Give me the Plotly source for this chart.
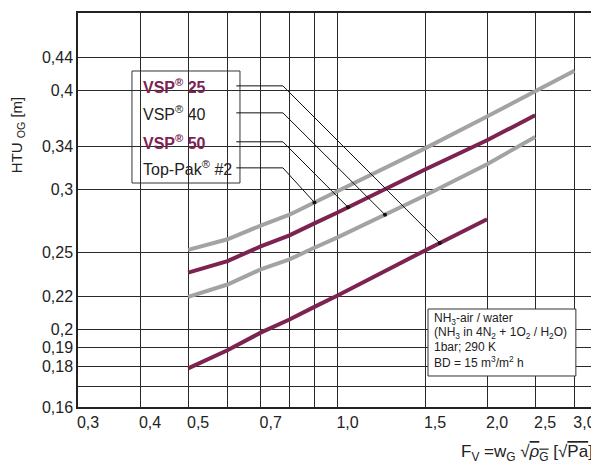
import numpy as np
import plotly.graph_objects as go

# ---- data ----
fv = [0.5, 0.6, 0.7, 0.8, 0.9, 1.0, 1.5, 2.0, 2.5, 3.0]
htu_toppak2 = [0.252, 0.2599, 0.2704, 0.2790, 0.2893, 0.2986, 0.338, 0.3706, 0.399, 0.423]
htu_vsp50 = [0.236, 0.244, 0.2546, 0.2628, 0.2723, 0.2808, 0.318, 0.346, 0.372]
htu_vsp40 = [0.220, 0.228, 0.2382, 0.2452, 0.2538, 0.2613, 0.2949, 0.3229, 0.3494]
htu_vsp25 = [0.1789, 0.1885, 0.1984, 0.2061, 0.2139, 0.2209, 0.2516, 0.2754]

x_tickvals = [0.3, 0.4, 0.5, 0.6, 0.7, 0.8, 0.9, 1.0, 1.5, 2.0, 2.5, 3.0]
x_ticktext = ["0,3", "0,4", "0,5", "", "0,7", "", "", "1,0", "1,5", "2,0", "2,5", "3,0"]
y_tickvals = [0.16, 0.17, 0.18, 0.19, 0.2, 0.22, 0.25, 0.3, 0.34, 0.4, 0.44]
y_ticktext = ["0,16", "", "0,18", "0,19", "0,2", "0,22", "0,25", "0,3", "0,34", "0,4", "0,44"]

# label rows (legend box) and leader targets
labels = ["<b>VSP<sup>®</sup> 25</b>", "VSP<sup>®</sup> 40", "<b>VSP<sup>®</sup> 50</b>", "Top-Pak<sup>®</sup> #2"]
label_colors = ["#7d2352", "#222222", "#7d2352", "#222222"]
label_rows_y = [0.405, 0.3746, 0.3445, 0.3195]
leader_target_x = [1.607, 1.246, 1.05, 0.898]
leader_start_x = 0.625
leader_elbow_x = 0.776
label_x = 0.402

PURPLE = "#7d2352"
GRAY = "#a3a3a3"
FONT = "Liberation Sans, Arial, Helvetica, sans-serif"

series = [
    ("Top-Pak #2", htu_toppak2, GRAY),
    ("VSP 40", htu_vsp40, GRAY),
    ("VSP 50", htu_vsp50, PURPLE),
    ("VSP 25", htu_vsp25, PURPLE),
]
series_by_label = [htu_vsp25, htu_vsp40, htu_vsp50, htu_toppak2]

fig = go.Figure()
for name, ys, col in series:
    fig.add_trace(go.Scatter(x=fv[:len(ys)], y=ys, mode="lines", name=name,
                             line=dict(color=col, width=4),
                             showlegend=False, hoverinfo="skip"))

# leader lines
for ys, tx, ly in zip(series_by_label, leader_target_x, label_rows_y):
    xs = np.log10(fv[:len(ys)])
    ty = 10 ** np.interp(np.log10(tx), xs, np.log10(ys))
    fig.add_trace(go.Scatter(x=[leader_start_x, leader_elbow_x, tx], y=[ly, ly, ty],
                             mode="lines", line=dict(color="#111111", width=1),
                             showlegend=False, hoverinfo="skip"))
    fig.add_trace(go.Scatter(x=[tx], y=[ty], mode="markers",
                             marker=dict(color="#111111", size=4),
                             showlegend=False, hoverinfo="skip"))

shapes = [
    dict(type="rect", xref="paper", yref="paper", x0=0.1044, x1=0.3133, y0=0.5685, y1=0.8528,
         fillcolor="white", line=dict(color="#333333", width=1), layer="below"),
    dict(type="rect", xref="paper", yref="paper", x0=0.677, x1=0.963, y0=0.0787, y1=0.2487,
         fillcolor="white", line=dict(color="#333333", width=1), layer="above"),
]

annotations = []
for txt, col, ly in zip(labels, label_colors, label_rows_y):
    annotations.append(dict(x=np.log10(label_x), y=np.log10(ly), xref="x", yref="y",
                            text=txt, showarrow=False, xanchor="left", yanchor="middle",
                            font=dict(family=FONT, size=16, color=col)))

cond_lines = ["NH<sub>3</sub>-air / water",
              "(NH<sub>3</sub> in 4N<sub>2</sub> + 1O<sub>2</sub> / H<sub>2</sub>O)",
              "1bar; 290 K",
              "BD = 15 m<sup>3</sup>/m<sup>2</sup> h"]
cond_y = [0.2234, 0.1878, 0.1523, 0.1142]
for t, yy in zip(cond_lines, cond_y):
    annotations.append(dict(x=0.684, y=yy, xref="paper", yref="paper", text=t,
                            showarrow=False, xanchor="left", yanchor="middle",
                            font=dict(family=FONT, size=12, color="#222222")))

annotations.append(dict(x=-0.118, y=0.69, xref="paper", yref="paper",
                        text="HTU <sub>OG</sub> [m]", textangle=-90, showarrow=False,
                        xanchor="center", yanchor="middle",
                        font=dict(family=FONT, size=15, color="#222222")))
annotations.append(dict(x=1.0, y=-0.117, xref="paper", yref="paper",
                        text="F<sub>V</sub> =w<sub>G</sub> √<span style='text-decoration:overline'><i>ρ</i><sub>G</sub></span> [√<span style='text-decoration:overline'>Pa</span>]",
                        showarrow=False, xanchor="right", yanchor="middle",
                        font=dict(family=FONT, size=17, color="#222222")))

# page body adds an 8px margin, so the figure is sized/offset to land on the 599x468 view
fig.update_layout(
    width=591, height=460,
    margin=dict(l=70, r=4, t=5, b=61, autoexpand=False),
    paper_bgcolor="white", plot_bgcolor="white",
    font=dict(family=FONT, size=16, color="#222222"),
    shapes=shapes, annotations=annotations,
    showlegend=False,
)
fig.update_xaxes(type="log", range=[np.log10(0.3), np.log10(3.3)], automargin=False,
                 tickmode="array", tickvals=x_tickvals, ticktext=x_ticktext,
                 ticklabelshift=10, ticks="", showgrid=True, gridcolor="#2a2a2a", gridwidth=1,
                 showline=True, mirror=True, linecolor="#222222", linewidth=1.5,
                 zeroline=False, tickfont=dict(size=16))
fig.update_yaxes(type="log", range=[np.log10(0.16), np.log10(0.5)], automargin=False,
                 tickmode="array", tickvals=y_tickvals, ticktext=y_ticktext,
                 ticks="", showgrid=True, gridcolor="#2a2a2a", gridwidth=1,
                 showline=True, mirror=True, linecolor="#222222", linewidth=1.5,
                 zeroline=False, tickfont=dict(size=16))

fig.write_html("out.html")
